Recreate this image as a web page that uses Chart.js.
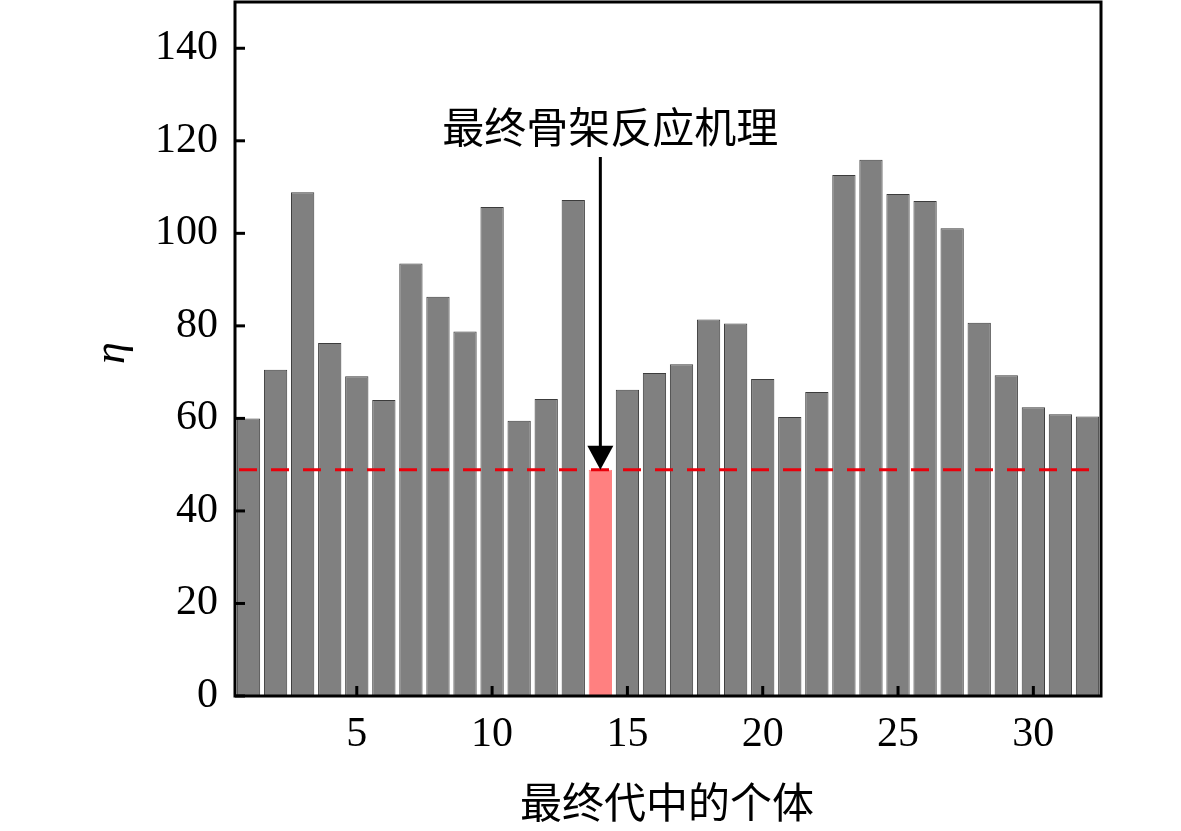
<!DOCTYPE html>
<html>
<head>
<meta charset="utf-8">
<script src="https://cdn.jsdelivr.net/npm/chart.js@4"></script>
<style>
  html, body { margin: 0; padding: 0; background: #fff; }
  #wrap { width: 1181px; height: 831px; }
</style>
</head>
<body>
<div id="wrap"><canvas id="etaChart" width="1181" height="831"></canvas></div>
<script>
// individuals of the final generation
const individuals = ['1','2','3','4','5','6','7','8','9','10','11','12','13','14','15','16',
  '17','18','19','20','21','22','23','24','25','26','27','28','29','30','31','32'];
// eta value per individual
const etaValues = [60.0, 70.5, 108.9, 76.3, 69.1, 64.0, 93.5, 86.3, 78.8, 105.7, 59.5, 64.2,
  107.2, 48.9, 66.2, 69.8, 71.7, 81.4, 80.5, 68.5, 60.3, 65.7, 112.6, 115.9,
  108.5, 107.0, 101.1, 80.7, 69.3, 62.4, 60.9, 60.4];
const bestIndividual = '14';
const thresholdEta = 48.9;
const xTickLabels = ['5', '10', '15', '20', '25', '30'];
const yTickValues = [0, 20, 40, 60, 80, 100, 120, 140];

const annotationText = '最终骨架反应机理';
const xTitle = '最终代中的个体';
const yTitle = 'η';

const serif = '"Liberation Serif", "Times New Roman", serif';
const cjk = '"Noto Sans CJK SC", sans-serif';

const barColors = individuals.map(i => i === bestIndividual ? '#ff8080' : '#808080');
const borderColors = individuals.map(i => i === bestIndividual ? '#ff8080' : '#3c3c3c');

// frame, inward ticks, threshold line, arrow + titles
const decorPlugin = {
  id: 'decor',
  afterDatasetsDraw(chart) {
    const ctx = chart.ctx;
    const a = chart.chartArea;
    const xs = chart.scales.x;
    const ys = chart.scales.y;
    ctx.save();

    // dashed threshold
    const yT = ys.getPixelForValue(thresholdEta);
    ctx.strokeStyle = '#e8000b';
    ctx.lineWidth = 3;
    ctx.setLineDash([18, 14]);
    ctx.beginPath();
    ctx.moveTo(a.left + 4, yT);
    ctx.lineTo(a.right, yT);
    ctx.stroke();
    ctx.setLineDash([]);

    // arrow to best individual
    const bi = individuals.indexOf(bestIndividual);
    const xb = xs.getPixelForValue(bi);
    const yb = ys.getPixelForValue(etaValues[bi]);
    ctx.strokeStyle = '#000';
    ctx.fillStyle = '#000';
    ctx.lineWidth = 3;
    ctx.beginPath();
    ctx.moveTo(xb, 157);
    ctx.lineTo(xb, yb - 22);
    ctx.stroke();
    ctx.beginPath();
    ctx.moveTo(xb - 13, yb - 24);
    ctx.lineTo(xb + 13, yb - 24);
    ctx.lineTo(xb, yb);
    ctx.closePath();
    ctx.fill();

    ctx.font = '42px ' + cjk;
    ctx.textAlign = 'center';
    ctx.textBaseline = 'middle';
    ctx.fillText(annotationText, xb + 10, 127);

    // frame
    ctx.lineWidth = 3;
    ctx.strokeRect(a.left, a.top, a.right - a.left, a.bottom - a.top);

    // inward ticks
    ctx.lineWidth = 3;
    yTickValues.forEach(v => {
      const y = ys.getPixelForValue(v);
      ctx.beginPath();
      ctx.moveTo(a.left, y);
      ctx.lineTo(a.left + 10, y);
      ctx.stroke();
    });
    xTickLabels.forEach(l => {
      const x = xs.getPixelForValue(individuals.indexOf(l));
      ctx.beginPath();
      ctx.moveTo(x, a.bottom);
      ctx.lineTo(x, a.bottom - 10);
      ctx.stroke();
    });

    // axis titles
    ctx.fillStyle = '#000';
    ctx.font = '42px ' + cjk;
    ctx.fillText(xTitle, (a.left + a.right) / 2 - 1, 802);
    ctx.save();
    ctx.translate(112, 353);
    ctx.rotate(-Math.PI / 2);
    ctx.font = 'italic 44px ' + serif;
    ctx.fillText(yTitle, 0, 0);
    ctx.restore();

    ctx.restore();
  }
};

new Chart(document.getElementById('etaChart'), {
  type: 'bar',
  data: {
    labels: individuals,
    datasets: [{
      data: etaValues,
      backgroundColor: barColors,
      borderColor: borderColors,
      borderWidth: 1,
      barPercentage: 0.86,
      categoryPercentage: 1
    }]
  },
  options: {
    responsive: false,
    animation: false,
    layout: { padding: { top: 2, right: 80, left: 0, bottom: 0 } },
    plugins: {
      legend: { display: false },
      tooltip: { enabled: false }
    },
    scales: {
      x: {
        grid: { display: false, drawTicks: false },
        border: { display: false },
        ticks: {
          autoSkip: false,
          maxRotation: 0,
          padding: 14,
          color: '#000',
          font: { family: serif, size: 42 },
          callback: (v, i) => xTickLabels.includes(individuals[i]) ? individuals[i] : ''
        },
        afterFit: s => { s.height = 135; s.paddingLeft = 0; s.paddingRight = 0; }
      },
      y: {
        min: 0,
        max: 150,
        grid: { display: false, drawTicks: false },
        border: { display: false },
        afterBuildTicks: s => { s.ticks = yTickValues.map(v => ({ value: v })); },
        ticks: {
          padding: 17,
          color: '#000',
          font: { family: serif, size: 42 }
        },
        afterFit: s => { s.width = 235; s.paddingTop = 0; s.paddingBottom = 0; }
      }
    }
  },
  plugins: [decorPlugin]
});
</script>
</body>
</html>
